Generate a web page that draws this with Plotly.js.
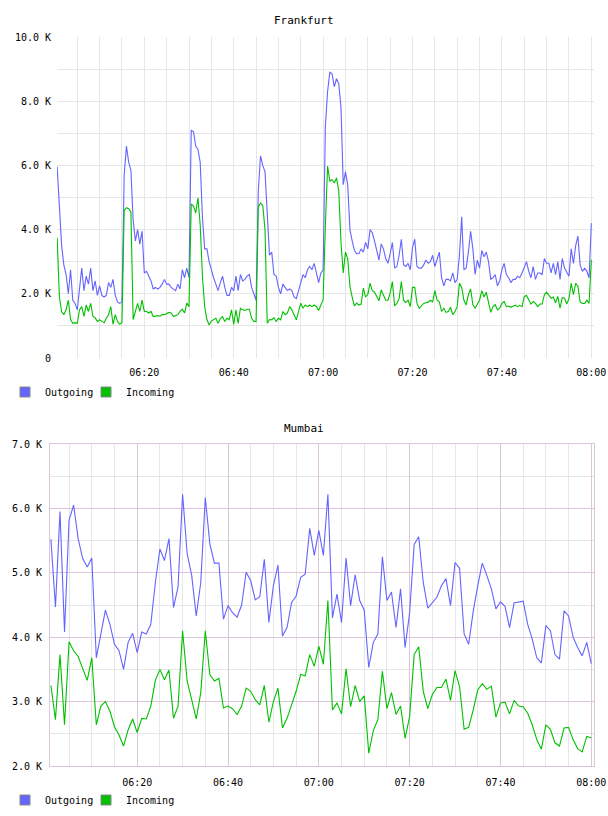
<!DOCTYPE html>
<html>
<head>
<meta charset="utf-8">
<script src="https://cdn.plot.ly/plotly-3.0.1.min.js"></script>
<style>html,body{margin:0;padding:0;background:#fff;}#chart{width:608px;height:816px;}</style>
</head>
<body>
<div id="chart"></div>
<script>
// ---- Data (values in thousands) ----
const seriesNames = ['Outgoing', 'Incoming'];
const seriesColors = ['#6464ff', '#00c000'];

// Frankfurt: 30-second samples starting 06:00:30
const frankfurtStart = '06:00:30';
const frankfurtStepSec = 30;
const frankfurtOutgoing = [
  5.96,4.9,3.5,2.9,2.6,2.0,2.75,1.8,1.7,1.5,
  2.2,2.8,2.1,2.55,2.3,2.8,2.1,2.4,1.95,2.25,
  1.95,1.9,1.95,2.35,2.2,2.45,1.95,1.75,1.7,1.75,
  5.7,6.6,6.1,5.85,4.3,3.65,4.0,3.55,3.95,2.65,
  2.7,2.55,2.4,2.15,2.2,2.15,2.2,2.3,2.45,2.3,
  2.3,2.2,2.15,2.1,2.3,2.15,2.75,2.5,2.8,2.5,
  7.1,7.05,6.6,6.5,6.1,4.4,3.4,3.4,3.0,2.7,
  2.5,2.3,2.1,2.35,2.55,2.2,1.95,1.95,2.2,2.1,
  2.55,2.1,2.6,2.4,2.45,2.55,2.6,2.2,2.0,1.8,
  5.2,6.3,6.0,5.8,4.5,3.2,3.3,2.6,2.55,2.2,
  2.0,2.3,2.2,2.1,2.15,2.1,1.9,1.85,2.1,2.4,
  2.6,2.5,2.75,2.85,2.75,2.95,2.6,2.35,2.65,2.75,
  7.2,8.3,8.9,8.85,8.45,8.7,8.55,7.8,5.4,5.8,
  5.4,4.0,3.65,3.35,3.25,3.25,3.4,3.3,3.6,3.4,
  4.0,3.9,3.65,3.3,3.05,3.55,3.4,3.1,2.95,3.25,
  3.6,2.8,2.85,3.2,3.7,2.9,2.85,2.95,2.75,3.45,
  3.7,2.85,2.8,2.8,2.9,3.05,2.95,3.0,3.2,2.85,
  3.05,3.3,2.5,2.25,2.45,2.45,2.4,2.65,2.35,2.45,
  3.2,4.4,2.75,2.8,3.3,3.95,3.4,2.6,3.05,2.8,
  3.35,3.15,3.3,3.0,2.45,2.5,2.6,2.25,2.4,2.75,
  2.95,2.6,2.5,2.35,2.45,2.45,2.55,2.5,2.65,
  2.85,3.0,2.7,2.5,2.85,2.45,2.65,2.65,2.6,3.1,
  2.95,2.95,2.65,2.95,2.6,3.0,2.45,3.1,2.8,2.65,
  2.55,3.4,2.95,3.5,3.8,2.9,2.7,2.8,2.7,2.5,
  4.2
];
const frankfurtIncoming = [
  3.75,1.9,1.45,1.35,1.5,1.8,1.2,1.08,1.1,1.08,
  1.5,1.6,1.3,1.65,1.45,1.7,1.3,1.25,1.14,1.19,
  1.14,1.1,1.24,1.35,1.6,1.05,1.35,1.14,1.05,1.1,
  4.6,4.68,4.65,4.55,1.2,1.5,1.7,1.45,1.8,1.45,
  1.45,1.4,1.45,1.29,1.3,1.32,1.3,1.35,1.35,1.38,
  1.42,1.4,1.3,1.32,1.35,1.45,1.52,1.4,1.71,1.6,
  4.8,4.73,4.52,4.99,4.16,2.54,1.6,1.2,1.03,1.15,
  1.19,1.24,1.08,1.22,1.29,1.14,1.24,1.19,1.5,1.05,
  1.5,1.08,1.55,1.5,1.48,1.52,1.52,1.24,1.14,1.14,
  4.7,4.83,4.75,4.0,1.08,1.2,1.19,1.26,1.14,1.24,
  1.19,1.45,1.35,1.4,1.6,1.5,1.35,1.19,1.45,1.71,
  1.55,1.65,1.6,1.65,1.6,1.65,1.6,1.48,1.65,1.81,
  4.1,5.98,5.5,5.56,5.45,5.61,5.2,3.6,2.65,3.3,
  3.1,2.23,1.9,1.62,1.71,1.65,1.68,2.18,1.9,1.98,
  2.33,2.1,2.05,1.9,1.78,2.12,1.96,1.8,1.8,2.02,
  2.38,1.62,1.7,1.85,2.38,1.8,1.73,1.8,1.6,2.2,
  2.2,1.7,1.55,1.62,1.7,1.72,1.74,1.8,1.75,2.1,
  1.8,1.75,1.45,1.55,1.42,1.45,1.58,1.35,1.45,1.6,
  2.33,2.2,1.8,1.65,1.97,2.15,1.66,1.55,1.7,1.8,
  2.1,1.9,2.05,1.75,1.42,1.6,1.66,1.5,1.55,1.7,
  1.76,1.6,1.62,1.58,1.62,1.65,1.6,1.64,1.6,
  1.92,1.95,1.8,1.68,1.76,1.7,1.6,1.68,1.68,1.97,
  2.05,1.95,1.86,1.9,1.72,1.92,1.55,1.88,1.86,1.68,
  1.85,2.33,1.97,2.33,2.23,1.75,1.7,1.7,1.8,1.7,
  3.06
];

// Mumbai: 1-minute samples starting 06:01
const mumbaiStart = '06:01:00';
const mumbaiStepSec = 60;
const mumbaiOutgoing = [
  5.52,4.47,5.95,4.08,5.82,6.05,5.53,5.22,5.09,5.23,
  3.68,4.05,4.42,4.20,3.89,3.79,3.50,3.92,4.06,3.76,
  4.08,4.05,4.20,4.85,5.37,5.19,5.53,4.46,4.78,6.22,
  5.30,4.96,4.33,4.85,6.17,5.45,5.15,5.15,4.28,4.49,
  4.38,4.31,4.50,5.01,4.88,4.58,4.63,5.21,4.23,4.80,
  5.12,4.02,4.15,4.54,4.64,4.93,4.98,5.69,5.27,5.66,
  5.27,6.22,4.30,4.67,4.23,5.23,4.49,4.97,4.57,4.42,
  3.53,3.92,4.05,5.25,4.57,4.70,4.15,4.75,3.84,4.38,
  5.44,5.56,4.85,4.45,4.53,4.62,4.80,4.91,4.49,5.16,
  5.07,4.05,3.89,4.40,4.80,5.15,4.96,4.75,4.44,4.55,
  4.48,4.15,4.53,4.54,4.56,4.20,3.97,3.68,3.60,4.18,
  4.10,3.73,3.66,4.41,4.33,4.00,3.84,3.71,3.92,3.59
];
const mumbaiIncoming = [
  3.25,2.72,3.73,2.64,3.93,3.79,3.70,3.50,3.33,3.68,
  2.64,2.93,3.00,2.85,2.61,2.48,2.31,2.56,2.73,2.52,
  2.74,2.73,2.93,3.33,3.50,3.34,3.49,2.74,2.93,4.10,
  3.32,3.03,2.73,3.14,4.10,3.42,3.32,3.36,2.90,2.93,
  2.89,2.80,2.93,3.21,3.16,3.03,2.95,3.25,2.68,3.00,
  3.21,2.59,2.74,2.95,3.16,3.42,3.40,3.73,3.55,3.86,
  3.58,4.57,2.87,2.98,2.81,3.51,2.92,3.25,3.00,3.09,
  2.20,2.55,2.72,3.47,2.89,3.14,2.80,2.93,2.43,2.77,
  3.73,3.85,3.16,2.89,3.11,3.22,3.22,3.35,3.02,3.48,
  3.23,2.57,2.60,2.87,3.18,3.28,3.19,3.24,2.76,2.98,
  2.99,2.81,3.02,2.93,2.92,2.82,2.64,2.41,2.26,2.64,
  2.57,2.36,2.31,2.59,2.60,2.41,2.27,2.22,2.46,2.44
];

const frankfurtTickVals = [0, 2, 4, 6, 8, 10];
const frankfurtTickText = ['0', '2.0 K', '4.0 K', '6.0 K', '8.0 K', '10.0 K'];
const mumbaiTickVals = [2, 3, 4, 5, 6, 7];
const mumbaiTickText = ['2.0 K', '3.0 K', '4.0 K', '5.0 K', '6.0 K', '7.0 K'];

// ---- helpers ----
const DAY = '2024-01-01 ';
function toSec(hms) { const p = hms.split(':').map(Number); return p[0]*3600 + p[1]*60 + (p[2]||0); }
function pad(n) { return String(n).padStart(2, '0'); }
function fmt(sec) { return DAY + pad(Math.floor(sec/3600)) + ':' + pad(Math.floor(sec%3600/60)) + ':' + pad(sec%60); }
function times(start, step, n) { const s = toSec(start); const out = []; for (let i = 0; i < n; i++) out.push(fmt(s + i*step)); return out; }

const fx = times(frankfurtStart, frankfurtStepSec, frankfurtOutgoing.length);
const mx = times(mumbaiStart, mumbaiStepSec, mumbaiOutgoing.length);

const W = 608, H = 816;
const px = v => v / W;
const py = v => 1 - v / H;

const lineTrace = (x, y, i, xa, ya) => ({
  type: 'scatter', mode: 'lines', x: x, y: y, name: seriesNames[i],
  xaxis: xa, yaxis: ya, showlegend: false,
  line: { color: seriesColors[i], width: 1.1 }, hoverinfo: 'skip'
});
const legendTrace = (i, xa, ya, leg) => ({
  type: 'scatter', mode: 'markers', x: [null], y: [null], name: seriesNames[i],
  xaxis: xa, yaxis: ya, legend: leg, showlegend: true,
  marker: { symbol: 'square', size: 10, color: seriesColors[i], line: { color: '#888888', width: 1 } }
});

const data = [
  lineTrace(fx, frankfurtOutgoing, 0, 'x', 'y'),
  lineTrace(fx, frankfurtIncoming, 1, 'x', 'y'),
  lineTrace(mx, mumbaiOutgoing, 0, 'x2', 'y2'),
  lineTrace(mx, mumbaiIncoming, 1, 'x2', 'y2'),
  legendTrace(0, 'x', 'y', 'legend'),
  legendTrace(1, 'x', 'y', 'legend2'),
  legendTrace(0, 'x2', 'y2', 'legend3'),
  legendTrace(1, 'x2', 'y2', 'legend4')
];

const mono = 'DejaVu Sans Mono, monospace';
const gridGray = '#e6e6e6';
const gridPurple = '#dcc4dc';

const legendBase = {
  orientation: 'h', xanchor: 'left', yanchor: 'middle',
  font: { family: mono, size: 10, color: '#000' },
  bgcolor: 'rgba(0,0,0,0)', borderwidth: 0, itemclick: false, itemdoubleclick: false
};

const layout = {
  width: W, height: H,
  margin: { l: 0, r: 0, t: 0, b: 0 },
  paper_bgcolor: '#ffffff', plot_bgcolor: '#ffffff',
  font: { family: mono, size: 10, color: '#000' },
  showlegend: true,
  xaxis: {
    domain: [px(57), px(594)], anchor: 'y', type: 'date',
    range: [DAY + '06:00:28', DAY + '08:00:36'],
    tick0: DAY + '06:00:00', dtick: 20*60*1000, tickformat: '%H:%M',
    showgrid: true, gridcolor: gridGray, gridwidth: 1,
    minor: { tick0: DAY + '06:00:00', dtick: 5*60*1000, showgrid: true, gridcolor: gridGray, gridwidth: 1 },
    zeroline: false, showline: false, ticks: '', ticklabelstandoff: 7,
    tickfont: { family: mono, size: 10, color: '#000' }, fixedrange: true
  },
  yaxis: {
    domain: [py(358), py(37)], anchor: 'x', range: [0, 10],
    tickmode: 'array', tickvals: frankfurtTickVals, ticktext: frankfurtTickText,
    showgrid: false,
    minor: { dtick: 1, showgrid: true, gridcolor: gridGray, gridwidth: 1 },
    zeroline: false, showline: false, ticks: '', ticklabelstandoff: 5,
    tickfont: { family: mono, size: 10, color: '#000' }, fixedrange: true
  },
  xaxis2: {
    domain: [px(50), px(594)], anchor: 'y2', type: 'date',
    range: [DAY + '06:00:48', DAY + '08:00:36'],
    tick0: DAY + '06:00:00', dtick: 20*60*1000, tickformat: '%H:%M',
    showgrid: true, gridcolor: gridPurple, gridwidth: 1,
    minor: { tick0: DAY + '06:00:00', dtick: 5*60*1000, showgrid: true, gridcolor: gridGray, gridwidth: 1 },
    zeroline: false, showline: true, mirror: true, linecolor: gridPurple, linewidth: 1,
    ticks: '', ticklabelstandoff: 7,
    tickfont: { family: mono, size: 10, color: '#000' }, fixedrange: true
  },
  yaxis2: {
    domain: [py(766), py(444)], anchor: 'x2', range: [2, 7],
    tickmode: 'array', tickvals: mumbaiTickVals, ticktext: mumbaiTickText,
    showgrid: true, gridcolor: gridPurple, gridwidth: 1,
    minor: { dtick: 0.5, showgrid: true, gridcolor: gridGray, gridwidth: 1 },
    zeroline: false, showline: true, mirror: true, linecolor: gridPurple, linewidth: 1,
    ticks: '', ticklabelstandoff: 5,
    tickfont: { family: mono, size: 10, color: '#000' }, fixedrange: true
  },
  legend: Object.assign({}, legendBase, { x: px(5), y: py(392) }),
  legend2: Object.assign({}, legendBase, { x: px(86), y: py(392) }),
  legend3: Object.assign({}, legendBase, { x: px(5), y: py(800) }),
  legend4: Object.assign({}, legendBase, { x: px(86), y: py(800) }),
  annotations: [
    { text: 'Frankfurt', xref: 'paper', yref: 'paper', x: 0.5, y: py(20.5), xanchor: 'center', yanchor: 'middle',
      showarrow: false, font: { family: mono, size: 11, color: '#000' } },
    { text: 'Mumbai', xref: 'paper', yref: 'paper', x: 0.5, y: py(428), xanchor: 'center', yanchor: 'middle',
      showarrow: false, font: { family: mono, size: 11, color: '#000' } }
  ]
};

Plotly.newPlot('chart', data, layout, { displayModeBar: false, staticPlot: true });
</script>
</body>
</html>
